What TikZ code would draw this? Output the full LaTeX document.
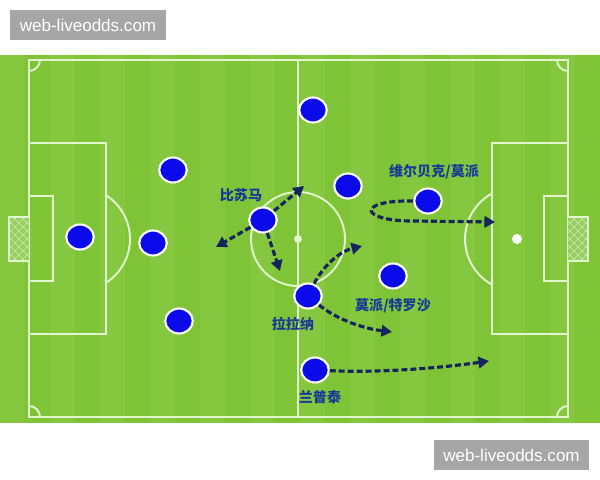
\documentclass[tikz,border=0pt]{standalone}
\usepackage{fontspec}
\usepackage{tikz}
\usepackage{xcolor}
\usetikzlibrary{arrows.meta,shapes.geometric,positioning}
\setmainfont{Liberation Sans}
\newfontfamily\cjk{Noto Sans CJK SC}[BoldFont={Noto Sans CJK SC Black}]
\definecolor{grass}{RGB}{127,195,55}
\definecolor{grasslight}{RGB}{133,199,62}
\definecolor{netgreen}{RGB}{150,206,96}
\definecolor{chalk}{RGB}{226,246,206}
\definecolor{shirt}{RGB}{10,10,235}
\definecolor{runblue}{RGB}{20,36,92}
\definecolor{tagblue}{RGB}{26,58,150}
\definecolor{markgray}{RGB}{166,166,166}
\tikzset{
    pitch-line/.style = {draw=chalk, line width=1.1pt},
    player/.style = {ellipse, draw=white, fill=shirt, line width=1.2pt, minimum width=0.55cm, minimum height=0.5cm, inner sep=0pt},
    run-arrow/.style = {draw=runblue, line width=1.8pt, dash pattern=on 3.4pt off 1.7pt, -{Triangle[length=6pt,width=6.5pt]}},
    player-name/.style = {text=tagblue, font=\cjk\bfseries\fontsize{8}{9}\selectfont, inner sep=0pt},
    watermark/.style = {fill=markgray, text=white, font=\fontsize{9.7}{11}\selectfont, minimum width=3.12cm, minimum height=0.6cm, inner sep=0pt},
}

\begin{document}
\begin{tikzpicture}[x=0.02cm, y=-0.02cm]
\useasboundingbox (0,0) rectangle (600,480);

% grass with stripes
\fill[grass] (0,55) rectangle (600,423);
\foreach \x in {0,50,...,550}
    \fill[grasslight] (\x,55) rectangle ++(25,368);

% pitch markings
\draw[pitch-line] (29,60) rectangle (568,417);
\draw[pitch-line] (298,60) -- (298,417);
\draw[pitch-line] (298,239) circle[radius=47];
\fill[chalk] (298,239) circle[radius=4];
\begin{scope}
    \clip (29,60) rectangle (568,417);
    \foreach \cx/\cy in {29/60, 568/60, 29/417, 568/417}
        \draw[pitch-line] (\cx,\cy) circle[radius=11];
\end{scope}

% left end
\draw[pitch-line] (29,143) rectangle (106,334);
\draw[pitch-line] (29,196) rectangle (53,281);
\begin{scope}
    \clip (106,150) rectangle (200,330);
    \draw[pitch-line] (78,239) circle[radius=52];
\end{scope}
\fill[netgreen] (9,217) rectangle (29,261);
\begin{scope}
    \clip (9,217) rectangle (29,261);
    \foreach \y in {197,205,...,261} {
        \draw[chalk!70!netgreen, line width=0.3pt] (9,\y) -- ++(20,20);
        \draw[chalk!70!netgreen, line width=0.3pt] (29,\y) -- ++(-20,20);
    }
\end{scope}
\draw[pitch-line] (29,217) -- (9,217) -- (9,261) -- (29,261);

% right end
\draw[pitch-line] (492,143) rectangle (568,334);
\draw[pitch-line] (544,196) rectangle (568,281);
\begin{scope}
    \clip (400,150) rectangle (492,330);
    \draw[pitch-line] (517,239) circle[radius=52];
\end{scope}
\fill[white] (517,239) circle[radius=5];
\fill[netgreen] (568,217) rectangle (588,261);
\begin{scope}
    \clip (568,217) rectangle (588,261);
    \foreach \y in {197,205,...,261} {
        \draw[chalk!70!netgreen, line width=0.3pt] (568,\y) -- ++(20,20);
        \draw[chalk!70!netgreen, line width=0.3pt] (588,\y) -- ++(-20,20);
    }
\end{scope}
\draw[pitch-line] (568,217) -- (588,217) -- (588,261) -- (568,261);

% players
\node[player] (keeper) at (80,237) {};
\node[player] (def-top) at (173,170) {};
\node[player] (def-mid) at (153,243) {};
\node[player] (def-bottom) at (179,321) {};
\node[player] (wing-top) at (313,110) {};
\node[player] (bisouma) at (263,220) {};
\node[player] (lallana) at (308,296) {};
\node[player] (lamptey) at (315,370) {};
\node[player] (mid-right) at (348,186) {};
\node[player] (welbeck) at (428,201) {};
\node[player] (trossard) at (393,276) {};

% names
\node[player-name] (bisouma-name) at (241,195) {比苏马};
\node[player-name] (welbeck-name) at (434,172) {维尔贝克/莫派};
\node[player-name] (trossard-name) at (393,306) {莫派/特罗沙};
\node[player-name] (lallana-name) at (293,324) {拉拉纳};
\node[player-name] (lamptey-name) at (320,397) {兰普泰};

% runs
\coordinate (bisouma-up) at (304,186);
\coordinate (bisouma-left) at (216,247);
\coordinate (bisouma-down) at (280,271);
\coordinate (lallana-up) at (362,246);
\coordinate (lallana-right) at (392,332);
\coordinate (lamptey-run) at (489,361);
\coordinate (welbeck-run) at (495,222);
\draw[run-arrow] (bisouma) -- (bisouma-up);
\draw[run-arrow] (bisouma) -- (bisouma-left);
\draw[run-arrow] (bisouma) -- (bisouma-down);
\draw[run-arrow] (lallana) .. controls (322,268) and (338,252) .. (lallana-up);
\draw[run-arrow] (lallana) .. controls (335,318) and (360,328) .. (lallana-right);
\draw[run-arrow] (lamptey) .. controls (380,373) and (440,368) .. (lamptey-run);
\draw[run-arrow] (welbeck.west) .. controls (355,200) and (360,221) .. (412,221) -- (welbeck-run);

% watermarks
\node[watermark] (mark-top) at (88,25) {web-liveodds.com};
\node[watermark] (mark-bottom) at (511.5,455) {web-liveodds.com};
\end{tikzpicture}
\end{document}
